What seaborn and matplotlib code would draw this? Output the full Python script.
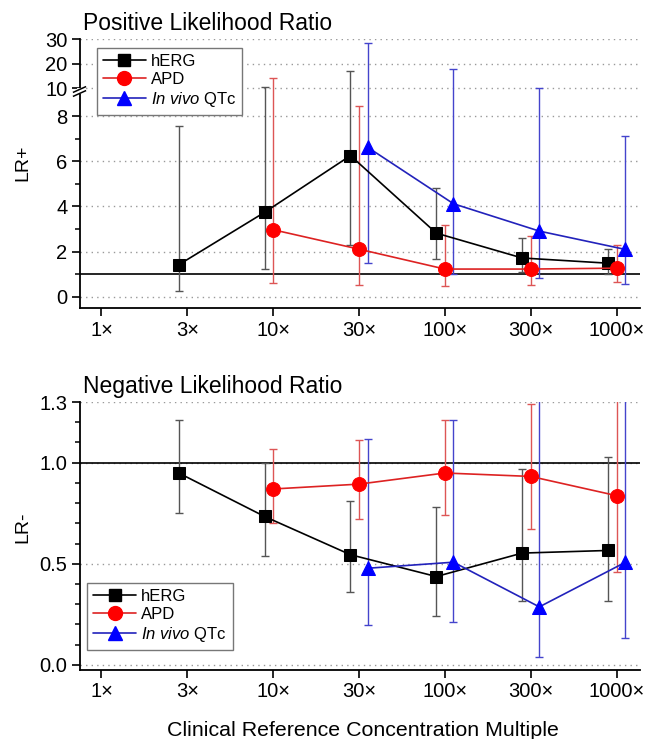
import numpy as np
import pandas as pd
import seaborn as sns
import matplotlib.pyplot as plt
from matplotlib.lines import Line2D
from matplotlib.ticker import FixedLocator
from matplotlib.transforms import ScaledTranslation

sns.set_theme(style="ticks")
plt.rcParams['font.family'] = ['Liberation Sans', 'DejaVu Sans']
plt.rcParams['text.color'] = 'black'
plt.rcParams['axes.labelcolor'] = 'black'
plt.rcParams['mathtext.fontset'] = 'custom'
plt.rcParams['mathtext.rm'] = 'Liberation Sans'
plt.rcParams['mathtext.it'] = 'Liberation Sans:italic'

# Kategorien (x-Achse)
multiples = ["1×", "3×", "10×", "30×", "100×", "300×", "1000×"]

# --- LR+ ---
herg_x = ["3×", "10×", "30×", "100×", "300×", "1000×"]
herg_lrp = [1.42, 3.74, 6.25, 2.82, 1.72, 1.49]
herg_lrp_lo = [0.27, 1.24, 2.3, 1.67, 1.1, 1.02]
herg_lrp_hi = [7.58, 10.7, 17.1, 4.82, 2.59, 2.1]

apd_x = ["10×", "30×", "100×", "300×", "1000×"]
apd_lrp = [2.97, 2.11, 1.23, 1.23, 1.27]
apd_lrp_lo = [0.61, 0.53, 0.49, 0.53, 0.65]
apd_lrp_hi = [14.4, 8.7, 3.16, 2.7, 2.3]

qtc_x = ["30×", "100×", "300×", "1000×"]
qtc_lrp = [6.62, 4.12, 2.91, 2.1]
qtc_lrp_lo = [1.52, 1.0, 0.83, 0.58]
qtc_lrp_hi = [28.6, 17.8, 10.0, 7.1]

# --- LR- ---
herg_lrn = [0.949, 0.734, 0.545, 0.437, 0.553, 0.566]
herg_lrn_lo = [0.75, 0.54, 0.36, 0.244, 0.317, 0.317]
herg_lrn_hi = [1.21, 1.0, 0.81, 0.78, 0.969, 1.026]

apd_lrn = [0.87, 0.894, 0.949, 0.932, 0.837]
apd_lrn_lo = [0.70, 0.72, 0.74, 0.67, 0.46]
apd_lrn_hi = [1.07, 1.11, 1.21, 1.29, 1.6]

qtc_lrn = [0.478, 0.508, 0.287, 0.507]
qtc_lrn_lo = [0.198, 0.21, 0.04, 0.135]
qtc_lrn_hi = [1.117, 1.21, 1.6, 1.6]

series = [
    # name, x, offset, color, errcolor, marker, size
    ("hERG", herg_x, -0.1, "black", "#555555", "s", 9),
    ("APD", apd_x, 0.0, "#ff0000", "#dd5555", "o", 10),
    ("QTc", qtc_x, 0.1, "#0000ff", "#4444cc", "^", 10.5),
]
line_cols = {"hERG": "black", "APD": "#dd2222", "QTc": "#2222bb"}


# gebrochene Achse: 0-8 linear, 8-10 gestaucht, 10-30 stark gestaucht
def fwd(y):
    y = np.asarray(y, dtype=float)
    return np.where(y <= 8, y, np.where(y <= 10, 8 + (y - 8) * 0.61, 9.22 + (y - 10) * 0.1086))


def inv(u):
    u = np.asarray(u, dtype=float)
    return np.where(u <= 8, u, np.where(u <= 9.22, 8 + (u - 8) / 0.61, 10 + (u - 9.22) / 0.1086))


fig = plt.figure(figsize=(6.64, 7.39), dpi=100)
ax1 = fig.add_axes([0.1205, 0.583, 0.843, 0.3637])
ax2 = fig.add_axes([0.1205, 0.0934, 0.843, 0.3626])


def draw(ax, data):
    for (name, xs, off, col, ecol, mk, ms), (vals, lo, hi) in zip(series, data):
        pos = np.array([multiples.index(c) for c in xs]) + off
        vals = np.array(vals)
        ax.errorbar(pos, vals, yerr=[vals - np.array(lo), np.array(hi) - vals], fmt="none",
                    ecolor=ecol, elinewidth=1, capsize=3, capthick=1, zorder=2)
        df = pd.DataFrame({"x": pos, "y": vals})
        sns.lineplot(data=df, x="x", y="y", ax=ax, color=line_cols[name], lw=1.2,
                     marker=mk, markersize=ms, markerfacecolor=col, markeredgecolor=col,
                     sort=False, legend=False, zorder=3)


draw(ax1, [(herg_lrp, herg_lrp_lo, herg_lrp_hi),
           (apd_lrp, apd_lrp_lo, apd_lrp_hi),
           (qtc_lrp, qtc_lrp_lo, qtc_lrp_hi)])
draw(ax2, [(herg_lrn, herg_lrn_lo, herg_lrn_hi),
           (apd_lrn, apd_lrn_lo, apd_lrn_hi),
           (qtc_lrn, qtc_lrn_lo, qtc_lrn_hi)])

ax1.set_yscale("function", functions=(fwd, inv))
ax1.set_ylim(-0.5, 30)
ax1.set_yticks([0, 2, 4, 6, 8, 10, 20, 30])
ax1.yaxis.set_minor_locator(FixedLocator([1, 3, 5, 7]))
ax1.axhline(1, color="black", lw=1.2, zorder=1.5)

ax2.set_ylim(-0.025, 1.3)
ax2.set_yticks([0.0, 0.5, 1.0, 1.3])
ax2.set_yticklabels(["0.0", "0.5", "1.0", "1.3"])
ax2.yaxis.set_minor_locator(FixedLocator(np.arange(0.1, 1.3, 0.1)))
ax2.axhline(1, color="black", lw=1.2, zorder=1.5)

for ax in (ax1, ax2):
    ax.set_xlim(-0.25, 6.27)
    ax.set_xticks(range(len(multiples)))
    ax.set_xticklabels(multiples)
    ax.set_xlabel("")
    ax.set_ylabel("")
    sns.despine(ax=ax)
    for s in ("left", "bottom"):
        ax.spines[s].set_linewidth(1.3)
        ax.spines[s].set_color("black")
    ax.yaxis.grid(True, which="major", ls=(0, (1, 3)), color="#999999", lw=1, zorder=0)
    ax.tick_params(which="major", direction="out", length=6, width=1.2, labelsize=14.5,
                   color="black", labelcolor="black", pad=3)
    ax.tick_params(which="minor", direction="out", length=3.5, width=1.1, color="black")
    ax.tick_params(axis="x", which="minor", length=0)

ax1.set_ylabel("LR+", fontsize=14)
ax1.yaxis.set_label_coords(-0.086, 0.54)
ax2.set_ylabel("LR-", fontsize=14)
ax2.yaxis.set_label_coords(-0.086, 0.534)

# Bruchzeichen an der y-Achse bei 10
base = ax1.get_yaxis_transform()
ax1.plot([0], [10], marker="s", markersize=4.5, color="white", markeredgewidth=0,
         transform=base + ScaledTranslation(0, -1.5 / 72, fig.dpi_scale_trans),
         clip_on=False, zorder=5)
for dy in (-0.5, -3.5):
    tr = base + ScaledTranslation(-1 / 72, dy / 72, fig.dpi_scale_trans)
    ax1.plot([0], [10], marker=[(-1, -0.45), (1, 0.45)], markersize=9.5, color="black",
             markeredgewidth=1.1, transform=tr, clip_on=False, zorder=6)

handles = [Line2D([], [], color=line_cols[n], marker=mk, markersize=ms, markerfacecolor=c,
                  markeredgecolor=c, lw=1.2) for n, _, _, c, _, mk, ms in series]
labels = ["hERG", "APD", r"$\it{In\ vivo}$ QTc"]
leg_kw = dict(fontsize=12, frameon=True, fancybox=False, edgecolor="#777777", framealpha=1,
              handlelength=2.6, handletextpad=0.3, labelspacing=0.18, borderpad=0.35,
              borderaxespad=0)
l1 = ax1.legend(handles, labels, loc="upper left", bbox_to_anchor=(0.03, 0.968), **leg_kw)
l2 = ax2.legend(handles, labels, loc="lower left", bbox_to_anchor=(0.0125, 0.075), **leg_kw)
for l in (l1, l2):
    l.get_frame().set_linewidth(1.0)

fig.text(83 / 664, 1 - 30.5 / 739, "Positive Likelihood Ratio", fontsize=16.5, va="baseline")
fig.text(83 / 664, 1 - 392.7 / 739, "Negative Likelihood Ratio", fontsize=16.5, va="baseline")
fig.text(363 / 664, 1 - 736 / 739, "Clinical Reference Concentration Multiple", fontsize=15.4,
         ha="center", va="baseline")

fig.savefig("out.png", dpi=100)
